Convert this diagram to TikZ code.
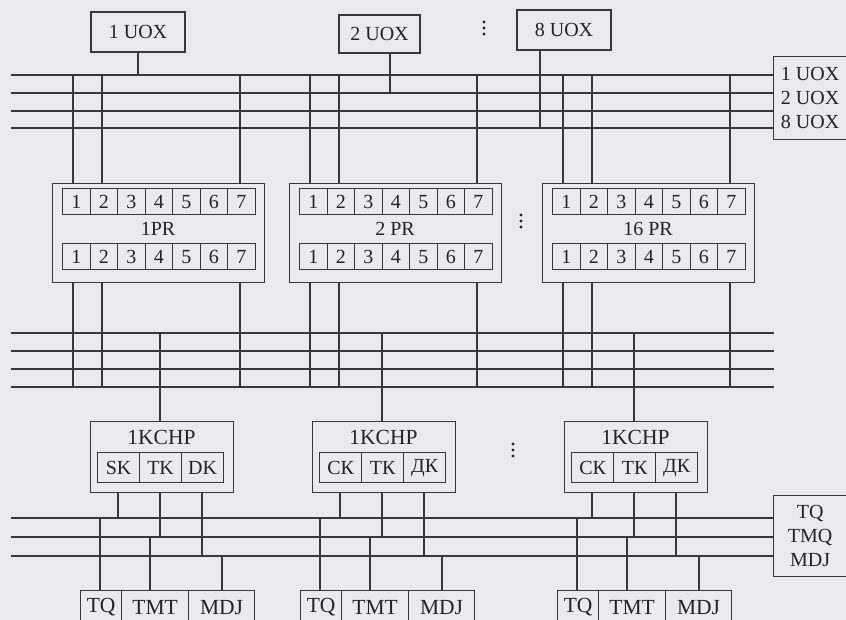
\documentclass[tikz,border=0pt]{standalone}
\usepackage{fontspec}
\setmainfont{Liberation Serif}
\usetikzlibrary{calc}
\definecolor{bg}{RGB}{234,234,237}
\definecolor{ink}{RGB}{55,55,60}
\definecolor{txt}{RGB}{35,35,40}
\begin{document}
\begin{tikzpicture}[x=1pt,y=-1pt,
  box/.style={draw=ink,line width=1.3pt,inner sep=0pt,text=txt},
  cell/.style={box,line width=1.2pt},
  bus/.style={draw=ink,line width=1.6pt},
  wire/.style={draw=ink,line width=1.4pt},
  lbl/.style={font=\fontsize{20}{24}\selectfont},
  big/.style={font=\fontsize{21.5}{24}\selectfont},
  dig/.style={font=\fontsize{20}{22}\selectfont},
]
\fill[bg] (0,0) rectangle (846,620);
\useasboundingbox (0,0) rectangle (846,620);

% top boxes
\node[box,lbl,minimum width=94pt,minimum height=40pt] (u1) at (138,32) {1 UOX};
\node[box,lbl,minimum width=81pt,minimum height=38pt] (u2) at (379.5,34) {2 UOX};
\node[box,lbl,minimum width=94pt,minimum height=40pt] (u8) at (564,30) {8 UOX};
\node[box,lbl,minimum width=73pt,minimum height=83pt,align=left,anchor=north west] (r1) at (773,56) {1 UOX\\2 UOX\\8 UOX};

% bus 1
\foreach \i/\y in {1/75,2/93,3/111,4/128} {
  \coordinate (a\i) at (11,\y);
  \draw[bus] (a\i) -- (a\i -| r1.west);
}
\coordinate (u1c) at (u1.south);
\coordinate (u2c) at ([xshift=10.5pt]u2.south);
\coordinate (u8c) at ([xshift=-24pt]u8.south);
\draw[wire] (u1c) -- (u1c |- a1);
\draw[wire] (u2c) -- (u2c |- a2);
\draw[wire] (u8c) -- (u8c |- a4);

% bus 2
\foreach \i/\y in {1/333,2/351,3/369,4/387} {
  \coordinate (c\i) at (11,\y);
  \coordinate (ce\i) at (774,\y);
  \draw[bus] (c\i) -- (ce\i);
}

% PR boxes
\foreach \n/\L/\t in {p1/52/1PR, p2/289/2 PR, p3/542/16 PR} {
  \node[box,minimum width=212pt,minimum height=99pt,anchor=north west] (\n) at (\L,183) {};
  \node[lbl,text=txt,inner sep=0pt] (\n-lab) at (\L+106,229) {\t};
  \foreach \k in {1,...,7} {
    \node[cell,dig,minimum width=27.5pt,minimum height=26pt,anchor=north west] (\n-u\k) at ({\L+10+(\k-1)*27.5},188) {\k};
    \node[cell,dig,minimum width=27.5pt,minimum height=26pt,anchor=north west] (\n-d\k) at ({\L+10+(\k-1)*27.5},243) {\k};
  }
  \foreach \j/\dx in {1/21,2/50,3/188} {
    \coordinate (\n-t\j) at (\L+\dx,183);
    \coordinate (\n-b\j) at (\L+\dx,282);
    \draw[wire] (\n-t\j |- a1) -- (\n-t\j);
    \draw[wire] (\n-b\j) -- (\n-b\j |- c4);
  }
}

% bus 3 and right box
\node[box,lbl,minimum width=73pt,minimum height=81pt,align=center,anchor=north west] (r2) at (773,495) {TQ\\TMQ\\MDJ};
\foreach \i/\y in {1/518,2/537,3/556} {
  \coordinate (d\i) at (11,\y);
  \draw[bus] (d\i) -- (d\i -| r2.west);
}

% KCHP boxes
\foreach \n/\L/\sa/\sb/\sc in {k1/90/SK/TK/DK, k2/312/СК/ТК/ДК, k3/564/СК/ТК/ДК} {
  \node[box,minimum width=143pt,minimum height=71pt,anchor=north west] (\n) at (\L,421) {};
  \node[big,text=txt,inner sep=0pt] (\n-lab) at (\L+71.5,437) {1KCHP};
  \node[cell,lbl,minimum width=42pt,minimum height=30pt,anchor=north west] (\n-x1) at (\L+7,452) {\sa};
  \node[cell,lbl,minimum width=42pt,minimum height=30pt,anchor=north west] (\n-x2) at (\L+49,452) {\sb};
  \node[cell,lbl,minimum width=42pt,minimum height=30pt,anchor=north west] (\n-x3) at (\L+91,452) {\sc};
  \coordinate (\n-t) at (\L+70,421);
  \coordinate (\n-s1) at (\L+28,492);
  \coordinate (\n-s2) at (\L+70,492);
  \coordinate (\n-s3) at (\L+112,492);
  \draw[wire] (\n-t |- c1) -- (\n-t);
  \draw[wire] (\n-s1) -- (\n-s1 |- d1);
  \draw[wire] (\n-s2) -- (\n-s2 |- d2);
  \draw[wire] (\n-s3) -- (\n-s3 |- d3);
}

% bottom boxes
\foreach \n/\L in {q1/80, q2/300, q3/557} {
  \node[cell,big,minimum width=41pt,minimum height=34pt,anchor=north west] (\n-1) at (\L,590) {TQ};
  \node[cell,big,minimum width=67pt,minimum height=34pt,anchor=north west] (\n-2) at (\L+41,590) {TMT};
  \node[cell,big,minimum width=66pt,minimum height=34pt,anchor=north west] (\n-3) at (\L+108,590) {MDJ};
  \coordinate (\n-t1) at (\L+20,590);
  \coordinate (\n-t2) at (\L+70,590);
  \coordinate (\n-t3) at (\L+142,590);
  \draw[wire] (\n-t1 |- d1) -- (\n-t1);
  \draw[wire] (\n-t2 |- d2) -- (\n-t2);
  \draw[wire] (\n-t3 |- d3) -- (\n-t3);
}

% vertical ellipses
\foreach \x/\y in {484/28, 521/221, 513/450} {
  \foreach \dy in {-6,0,6} \fill[txt] (\x,\y+\dy) circle (1.7pt);
}
\end{tikzpicture}
\end{document}
